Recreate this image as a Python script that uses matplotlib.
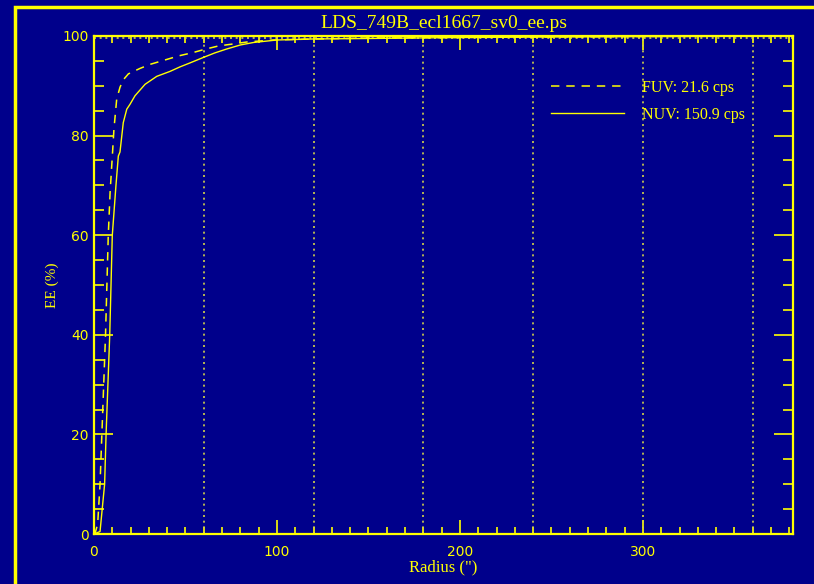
import matplotlib
matplotlib.use("Agg")
import matplotlib.pyplot as plt
from matplotlib.patches import Rectangle
from matplotlib.ticker import MultipleLocator

BG = "#00008b"
FG = "#ffff00"
GRID = "#d2d24a"

title = "LDS_749B_ecl1667_sv0_ee.ps"
fuv_label = "FUV: 21.6 cps"
nuv_label = "NUV: 150.9 cps"

fuv_x = [0, 0.5, 2.0, 3.3, 4.3, 6.3, 7.8, 8.8, 10.2, 10.9, 12.4, 14.2, 16.0, 18.8,
         25.2, 30.6, 38.9, 46.2, 54.4, 60.2, 68, 76, 83.6, 98, 120, 150, 200, 250,
         300, 350, 382]
fuv_y = [0, 0, 2, 10, 20, 40, 60, 68.6, 77, 81.3, 87.3, 89.7, 91.2, 92.4,
         93.5, 94.3, 95.2, 96.0, 96.7, 97.3, 98.0, 98.4, 98.8, 99.2, 99.4, 99.6, 99.7, 99.8,
         99.9, 99.95, 100]

nuv_x = [0, 3.3, 5.8, 6.6, 8.6, 10.0, 12.0, 13.3, 14.2, 16.0, 17.9, 19.7, 22.4, 27.9,
         34.3, 41.6, 47, 52.5, 59.8, 66, 72.6, 80, 87.2, 100, 120, 150, 200, 250,
         300, 350, 382]
nuv_y = [0, 0.5, 10, 20, 40, 60, 70, 75.9, 76.7, 82.6, 85.3, 86.3, 88.0, 90.3,
         91.9, 92.9, 93.8, 94.6, 95.7, 96.6, 97.4, 98.2, 98.7, 99.2, 99.4, 99.5, 99.7, 99.8,
         99.9, 99.95, 100]

vlines_x = [60, 120, 180, 240, 300, 360]
xticks = [0, 100, 200, 300]
yticks = [0, 20, 40, 60, 80, 100]

fig = plt.figure(figsize=(8.14, 5.84), dpi=100, facecolor=BG)
fig.patches.append(Rectangle((15 / 814, -0.2), 1.2, 1.2 - 7 / 584,
                             transform=fig.transFigure, fill=False,
                             edgecolor=FG, linewidth=2.5, clip_on=False))
ax = fig.add_axes([94 / 814, 1 - 534 / 584, (793 - 94) / 814, (534 - 36) / 584])
ax.set_facecolor(BG)

for v in vlines_x:
    ax.axvline(v, color=GRID, linestyle=(0, (1.2, 2.2)), linewidth=1.2)
ax.axhline(99.6, color=GRID, linestyle=(0, (1.2, 2.2)), linewidth=1.2)

ax.plot(fuv_x, fuv_y, color=FG, linewidth=1.1, linestyle=(0, (5.5, 4.5)), label=fuv_label)
ax.plot(nuv_x, nuv_y, color=FG, linewidth=1.0, linestyle="-", label=nuv_label)

ax.set_xlim(0, 382)
ax.set_ylim(0, 100)
ax.set_xticks(xticks)
ax.set_yticks(yticks)
ax.xaxis.set_minor_locator(MultipleLocator(10))
ax.yaxis.set_minor_locator(MultipleLocator(5))
ax.tick_params(axis="both", which="both", direction="in", colors=FG,
               top=True, right=True)
ax.tick_params(axis="x", which="major", length=10, width=1.2, pad=8)
ax.tick_params(axis="x", which="minor", length=5, width=1.2)
ax.tick_params(axis="y", which="major", length=14, width=1.2, pad=4)
ax.tick_params(axis="y", which="minor", length=7, width=1.2)
for lab in ax.get_xticklabels() + ax.get_yticklabels():
    lab.set_fontfamily("DejaVu Sans")
    lab.set_fontsize(10)
    lab.set_color(FG)
for s in ax.spines.values():
    s.set_color(FG)
    s.set_linewidth(1.6)

ax.set_title(title, color=FG, fontsize=14, family="Liberation Serif", pad=6)
ax.set_xlabel("Radius (\")", color=FG, fontsize=12, family="Liberation Serif", labelpad=0)
ax.set_ylabel("EE (%)", color=FG, fontsize=11, family="Liberation Serif", labelpad=2)

leg = ax.legend(loc="upper left", bbox_to_anchor=((551 - 94) / 699, (534 - 80) / 498),
                frameon=False, borderpad=0, borderaxespad=0, handlelength=4.6,
                handletextpad=1.1, labelspacing=0.66,
                prop={"family": "Liberation Serif", "size": 11.5})
for t in leg.get_texts():
    t.set_color(FG)

fig.savefig("out.png", dpi=100, facecolor=BG)
